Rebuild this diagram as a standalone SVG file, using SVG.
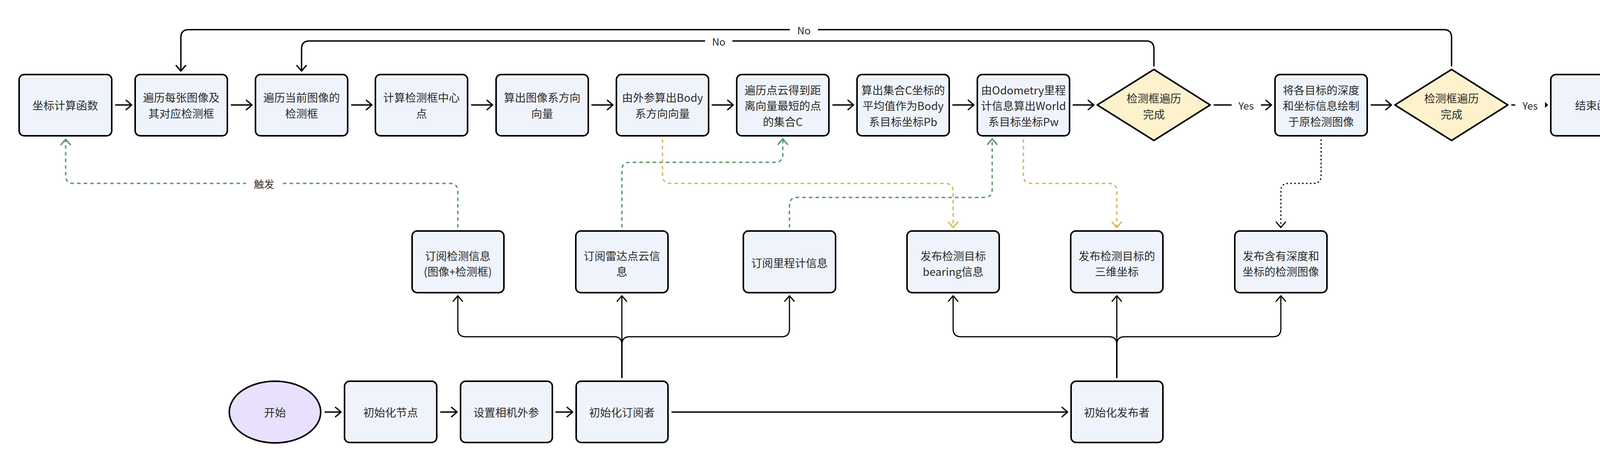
<svg xmlns="http://www.w3.org/2000/svg" width="4256" height="1184" viewBox="0 0 4256 1184">
<defs>
<marker id="ak" viewBox="0 0 18 28" refX="16" refY="14" markerWidth="18" markerHeight="28" markerUnits="userSpaceOnUse" orient="auto"><path d="M2,2 L16,14 L2,26" fill="none" stroke="#000" stroke-width="3.5" stroke-linecap="round" stroke-linejoin="round"/></marker>
<marker id="ak2" viewBox="0 0 18 28" refX="16" refY="14" markerWidth="18" markerHeight="28" markerUnits="userSpaceOnUse" orient="auto"><path d="M2,2 L16,14 L2,26" fill="none" stroke="#000" stroke-width="3" stroke-linecap="round" stroke-linejoin="round"/></marker>
<marker id="ag" viewBox="0 0 18 28" refX="16" refY="14" markerWidth="18" markerHeight="28" markerUnits="userSpaceOnUse" orient="auto"><path d="M2,2 L16,14 L2,26" fill="none" stroke="#559b69" stroke-width="3.5" stroke-linecap="round" stroke-linejoin="round"/></marker>
<marker id="ay" viewBox="0 0 18 28" refX="16" refY="14" markerWidth="18" markerHeight="28" markerUnits="userSpaceOnUse" orient="auto"><path d="M2,2 L16,14 L2,26" fill="none" stroke="#d8b65c" stroke-width="3.5" stroke-linecap="round" stroke-linejoin="round"/></marker>
</defs>
<style>
.n rect{fill:#eff4fc;stroke:#000;stroke-width:4}
.d polygon{fill:#fef2cd;stroke:#000;stroke-width:4;stroke-linejoin:round}
.s ellipse{fill:#e8e0fc;stroke:#000;stroke-width:4}
.t{font-family:"Noto Sans CJK SC","Noto Sans",sans-serif;font-size:28px;fill:#2b2b2b;text-anchor:middle;dominant-baseline:central}
.l{font-family:"Noto Sans CJK SC","Noto Sans",sans-serif;font-size:26px;fill:#2b2b2b;text-anchor:middle;dominant-baseline:central}
.m{fill:none;stroke:#000;stroke-width:3.5;marker-end:url(#ak)}
.b{fill:none;stroke:#000;stroke-width:3;marker-end:url(#ak2)}
.g{fill:none;stroke:#559b69;stroke-width:3.5;stroke-dasharray:9 8;marker-end:url(#ag)}
.y{fill:none;stroke:#d8b65c;stroke-width:3.5;stroke-dasharray:9 8;marker-end:url(#ay)}
.k{fill:none;stroke:#000;stroke-width:3;stroke-dasharray:4 6;marker-end:url(#ak2)}
.bg{fill:#fff}
</style>

<g id="connectors">
<line class="m" x1="295" y1="269" x2="337" y2="269"/>
<line class="m" x1="591" y1="269" x2="645" y2="269"/>
<line class="m" x1="899" y1="269" x2="952" y2="269"/>
<line class="m" x1="1206" y1="269" x2="1261" y2="269"/>
<line class="m" x1="1514" y1="269" x2="1569" y2="269"/>
<line class="m" x1="1822" y1="269" x2="1877" y2="269"/>
<line class="m" x1="2131" y1="269" x2="2185" y2="269"/>
<line class="m" x1="2438" y1="269" x2="2493" y2="269"/>
<line class="m" x1="2746" y1="269" x2="2800" y2="269"/>
<line class="m" x1="3107" y1="269" x2="3255" y2="269"/>
<line class="m" x1="3509" y1="269" x2="3562" y2="269"/>
<line class="m" x1="3869" y1="269" x2="3961" y2="269"/>
<path class="m" d="M2954,170 L2954,125 Q2954,105 2934,105 L792,105 Q772,105 772,125 L772,182"/>
<path class="m" d="M3716,170 L3716,96 Q3716,76 3696,76 L483,76 Q463,76 463,96 L463,182"/>
<path class="g" d="M1172,583 L1172,490 Q1172,470 1152,470 L188,470 Q168,470 168,450 L168,357"/>
<path class="g" d="M1592,583 L1592,436 Q1592,416 1612,416 L1984,416 Q2004,416 2004,396 L2004,356"/>
<path class="y" d="M1696,357 L1696,450 Q1696,470 1716,470 L2420,470 Q2440,470 2440,490 L2440,583"/>
<path class="g" d="M2021,583 L2021,526 Q2021,506 2041,506 L2520,506 Q2540,506 2540,486 L2540,356"/>
<path class="y" d="M2620,357 L2620,450 Q2620,470 2640,470 L2839,470 Q2859,470 2859,490 L2859,583"/>
<path class="k" d="M3382,357 L3382,450 Q3382,470 3362,470 L3299,470 Q3279,470 3279,490 L3279,583"/>
<line class="m" x1="831" y1="1056" x2="873" y2="1056"/>
<line class="m" x1="1127" y1="1056" x2="1170" y2="1056"/>
<line class="m" x1="1422" y1="1056" x2="1466" y2="1056"/>
<line class="m" x1="1719" y1="1056" x2="2733" y2="1056"/>
<path class="b" d="M1592,969 L1592,758"/>
<path class="b" d="M1592,969 L1592,883 Q1592,863 1572,863 L1192,863 Q1172,863 1172,843 L1172,758"/>
<path class="b" d="M1592,969 L1592,883 Q1592,863 1612,863 L2001,863 Q2021,863 2021,843 L2021,758"/>
<path class="b" d="M2859,969 L2859,758"/>
<path class="b" d="M2859,969 L2859,883 Q2859,863 2839,863 L2460,863 Q2440,863 2440,843 L2440,758"/>
<path class="b" d="M2859,969 L2859,883 Q2859,863 2879,863 L3259,863 Q3279,863 3279,843 L3279,758"/>
<rect class="bg" x="2022" y="58" width="72" height="36"/>
<text class="l" x="2058" y="76">No</text>
<rect class="bg" x="1805" y="87" width="70" height="36"/>
<text class="l" x="1840" y="105">No</text>
<rect class="bg" x="630" y="452" width="93" height="36"/>
<text class="l" x="676" y="470">触发</text>
<rect class="bg" x="3153" y="251" width="75" height="36"/>
<text class="l" x="3190" y="269">Yes</text>
<rect class="bg" x="3879" y="251" width="76" height="36"/>
<text class="l" x="3917" y="269">Yes</text>
</g>

<g id="n1" class="n"><rect x="49" y="191" width="237" height="157" rx="13"/><text class="t" x="167" y="269">坐标计算函数</text></g>
<g id="n2" class="n"><rect x="346" y="191" width="236" height="157" rx="13"/><text class="t" x="464" y="249">遍历每张图像及</text><text class="t" x="464" y="290">其对应检测框</text></g>
<g id="n3" class="n"><rect x="654" y="191" width="236" height="157" rx="13"/><text class="t" x="772" y="249">遍历当前图像的</text><text class="t" x="772" y="290">检测框</text></g>
<g id="n4" class="n"><rect x="961" y="191" width="236" height="157" rx="13"/><text class="t" x="1079" y="249">计算检测框中心</text><text class="t" x="1079" y="290">点</text></g>
<g id="n5" class="n"><rect x="1270" y="191" width="236" height="157" rx="13"/><text class="t" x="1388" y="249">算出图像系方向</text><text class="t" x="1388" y="290">向量</text></g>
<g id="n6" class="n"><rect x="1578" y="191" width="236" height="157" rx="13"/><text class="t" x="1696" y="249">由外参算出Body</text><text class="t" x="1696" y="290">系方向向量</text></g>
<g id="n7" class="n"><rect x="1886" y="191" width="236" height="157" rx="13"/><text class="t" x="2004" y="230">遍历点云得到距</text><text class="t" x="2004" y="270">离向量最短的点</text><text class="t" x="2004" y="311">的集合C</text></g>
<g id="n8" class="n"><rect x="2194" y="191" width="236" height="157" rx="13"/><text class="t" x="2312" y="230">算出集合C坐标的</text><text class="t" x="2312" y="270">平均值作为Body</text><text class="t" x="2312" y="311">系目标坐标Pb</text></g>
<g id="n9" class="n"><rect x="2502" y="191" width="236" height="157" rx="13"/><text class="t" x="2620" y="230">由Odometry里程</text><text class="t" x="2620" y="270">计信息算出World</text><text class="t" x="2620" y="311">系目标坐标Pw</text></g>
<g id="d1" class="d"><polygon points="2954,178 3098,269 2954,360 2809,269"/><text class="t" x="2954" y="251">检测框遍历</text><text class="t" x="2954" y="292">完成</text></g>
<g id="n10" class="n"><rect x="3264" y="191" width="236" height="157" rx="13"/><text class="t" x="3382" y="230">将各目标的深度</text><text class="t" x="3382" y="270">和坐标信息绘制</text><text class="t" x="3382" y="311">于原检测图像</text></g>
<g id="d2" class="d"><polygon points="3716,178 3860,269 3716,360 3571,269"/><text class="t" x="3716" y="251">检测框遍历</text><text class="t" x="3716" y="292">完成</text></g>
<g id="n11" class="n"><rect x="3970" y="191" width="236" height="157" rx="13"/><text class="t" x="4088" y="269">结束函数</text></g>

<g id="s1" class="n"><rect x="1055" y="592" width="235" height="158" rx="13"/><text class="t" x="1172" y="655">订阅检测信息</text><text class="t" x="1172" y="695">(图像+检测框)</text></g>
<g id="s2" class="n"><rect x="1474" y="592" width="236" height="158" rx="13"/><text class="t" x="1592" y="655">订阅雷达点云信</text><text class="t" x="1592" y="695">息</text></g>
<g id="s3" class="n"><rect x="1903" y="592" width="236" height="158" rx="13"/><text class="t" x="2021" y="673">订阅里程计信息</text></g>
<g id="p1" class="n"><rect x="2322" y="592" width="236" height="158" rx="13"/><text class="t" x="2440" y="655">发布检测目标</text><text class="t" x="2440" y="695">bearing信息</text></g>
<g id="p2" class="n"><rect x="2741" y="592" width="236" height="158" rx="13"/><text class="t" x="2859" y="655">发布检测目标的</text><text class="t" x="2859" y="695">三维坐标</text></g>
<g id="p3" class="n"><rect x="3161" y="592" width="236" height="158" rx="13"/><text class="t" x="3279" y="655">发布含有深度和</text><text class="t" x="3279" y="695">坐标的检测图像</text></g>

<g id="start" class="s"><ellipse cx="704" cy="1056" rx="117" ry="79"/><text class="t" x="704" y="1056">开始</text></g>
<g id="b1" class="n"><rect x="882" y="977" width="236" height="157" rx="13"/><text class="t" x="1000" y="1056">初始化节点</text></g>
<g id="b2" class="n"><rect x="1179" y="977" width="235" height="157" rx="13"/><text class="t" x="1296" y="1056">设置相机外参</text></g>
<g id="b3" class="n"><rect x="1475" y="977" width="235" height="157" rx="13"/><text class="t" x="1592" y="1056">初始化订阅者</text></g>
<g id="b4" class="n"><rect x="2742" y="977" width="235" height="157" rx="13"/><text class="t" x="2859" y="1056">初始化发布者</text></g>
</svg>
